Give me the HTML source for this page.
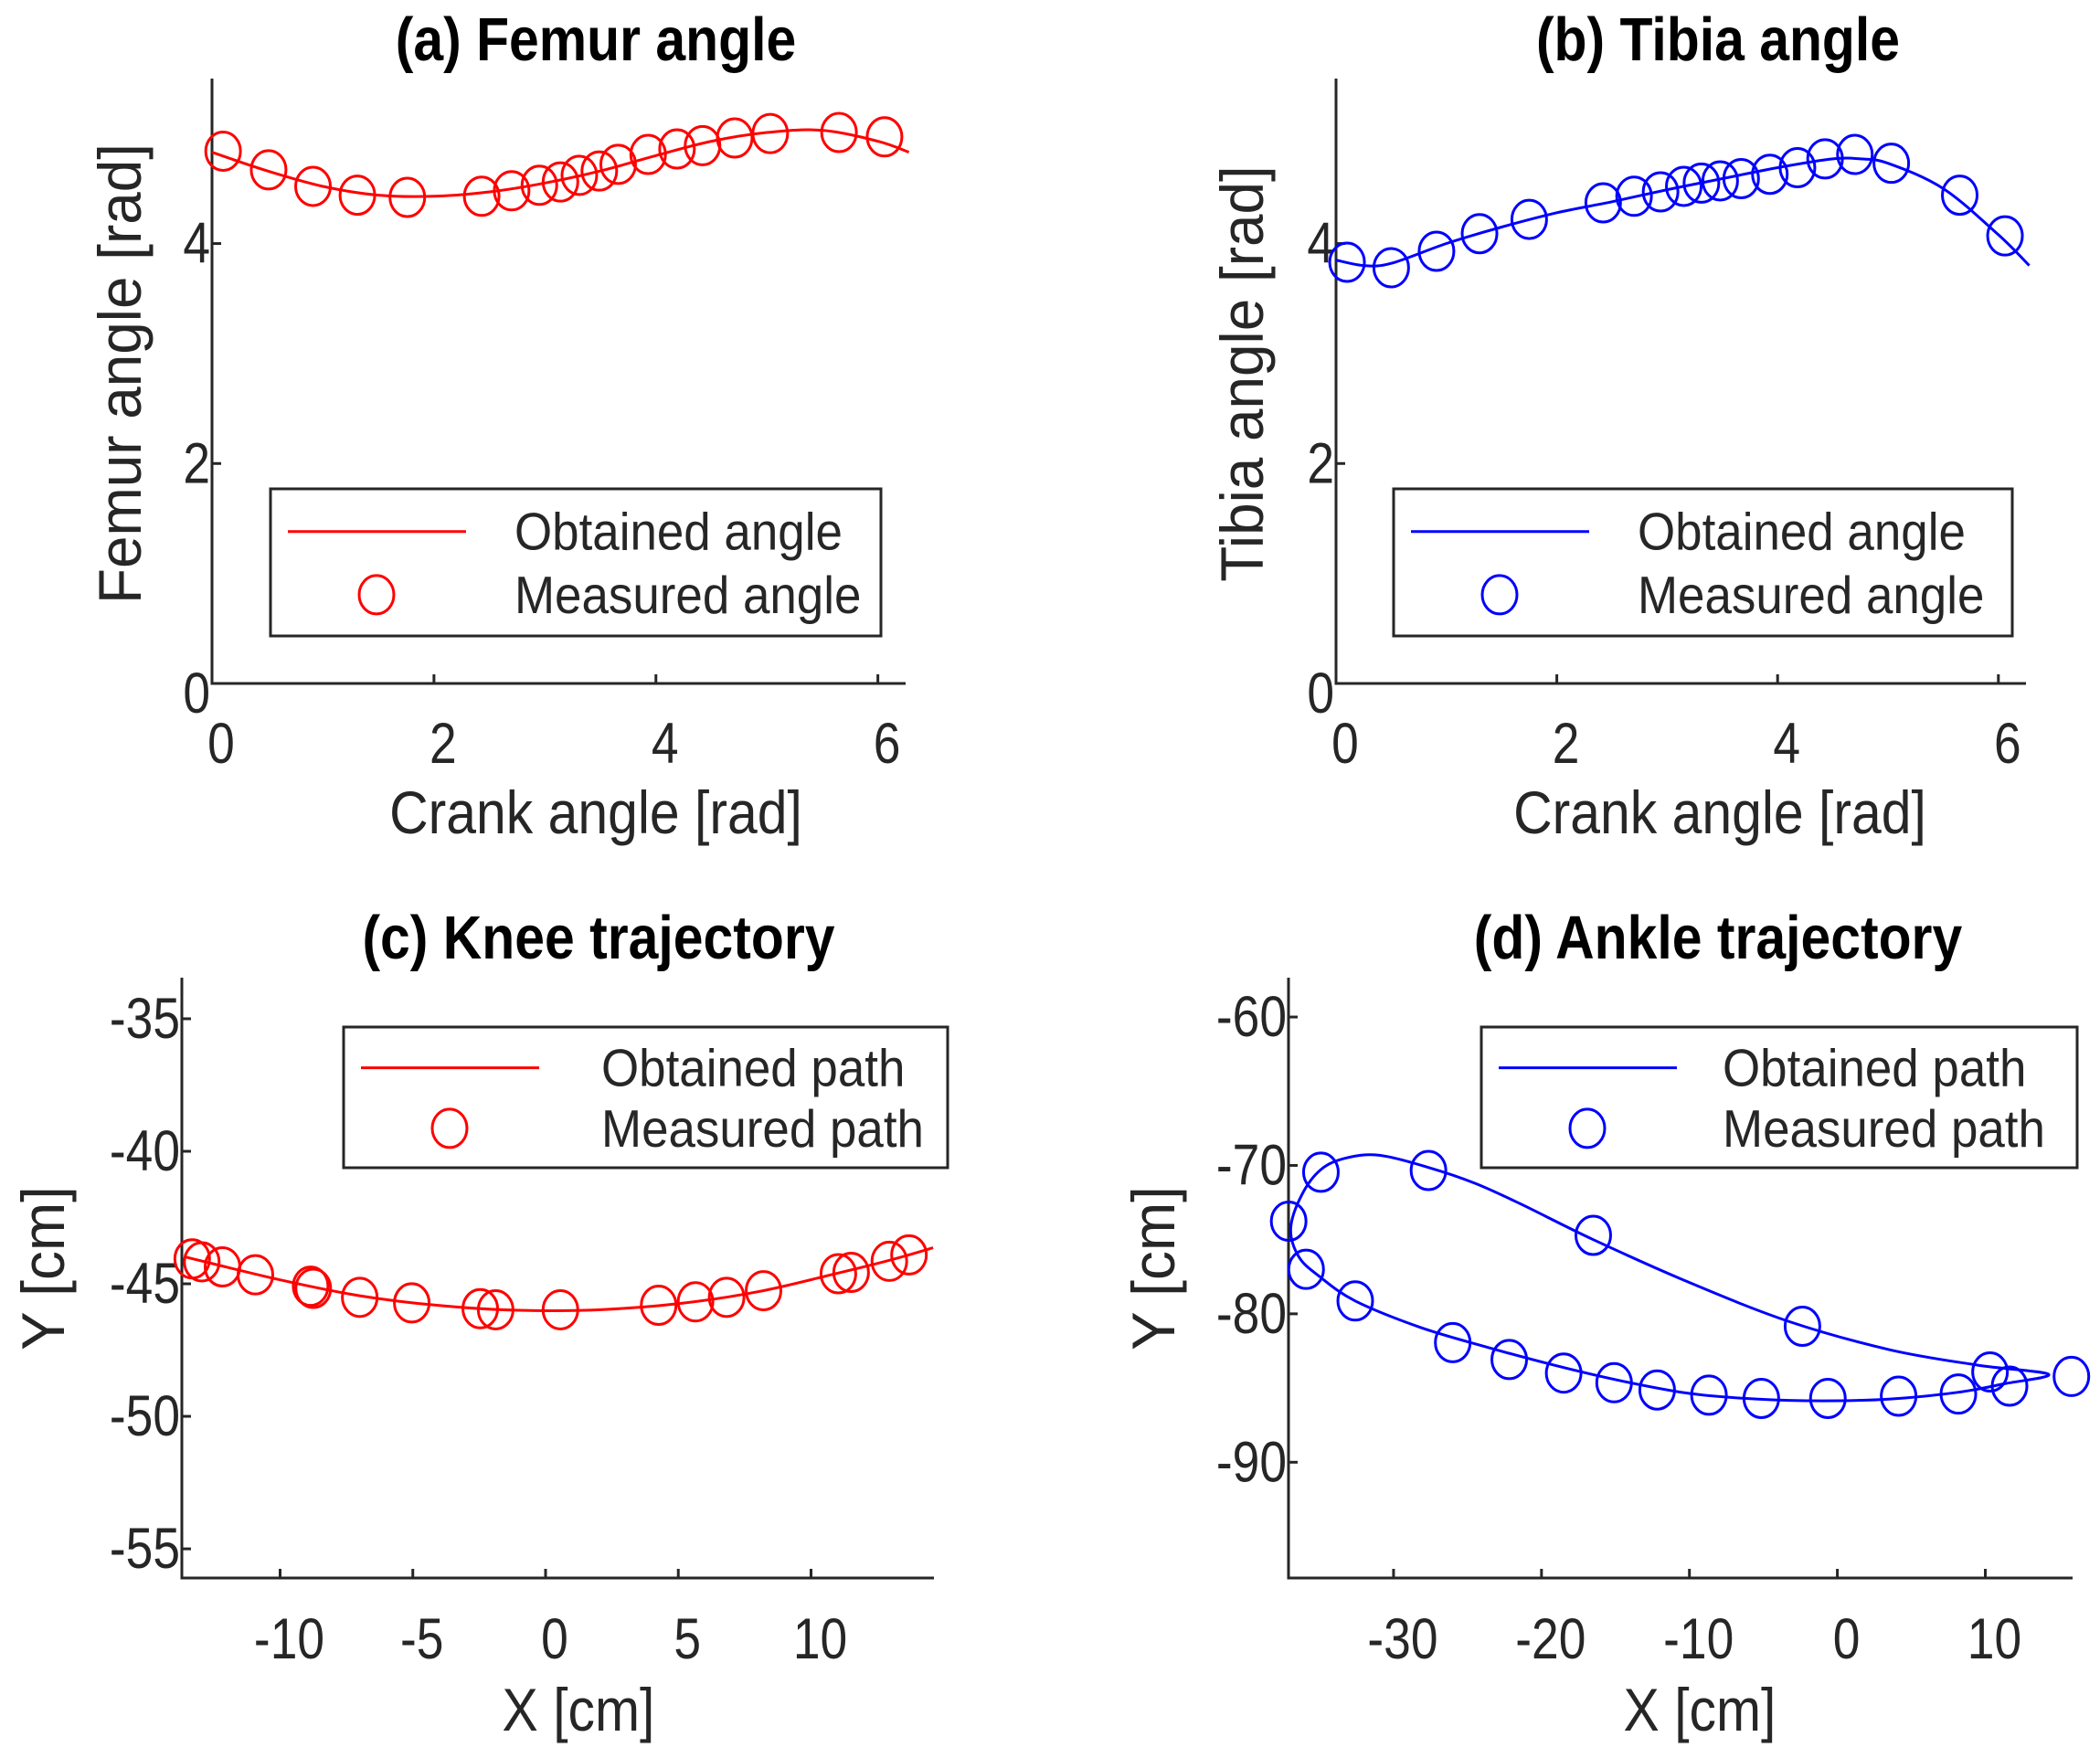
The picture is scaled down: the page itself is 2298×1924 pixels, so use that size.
<!DOCTYPE html>
<html><head><meta charset="utf-8"><style>
html,body{margin:0;padding:0;background:#fff;}
svg{display:block;}
text{font-family:"Liberation Sans",Arial,sans-serif;fill:#262626;}
.t{font-weight:bold;fill:#000;}
</style></head>
<body>
<svg id="fig" xmlns="http://www.w3.org/2000/svg" width="2298" height="1924" viewBox="0 0 2298 1924"></svg>
<script>
// ---- data (a) femur ----
const aCurveX=[0,0.5,1,1.5,2,2.5,3,3.5,4,4.5,5,5.5,6,6.28];
const aCurveY=[4.83,4.66,4.52,4.44,4.43,4.47,4.55,4.66,4.80,4.93,5.01,5.03,4.93,4.83];
const aMeasX=[0.10,0.51,0.91,1.31,1.76,2.43,2.70,2.95,3.14,3.31,3.49,3.66,3.93,4.19,4.42,4.71,5.03,5.65,6.06];
const aMeasY=[4.84,4.67,4.52,4.44,4.42,4.43,4.48,4.53,4.56,4.62,4.66,4.72,4.81,4.86,4.89,4.96,5.00,5.01,4.97];
// ---- data (b) tibia ----
const bCurveX=[0,0.25,0.5,1,1.5,2,2.5,3,3.5,4,4.5,4.75,5,5.5,6,6.28];
const bCurveY=[3.85,3.80,3.82,4.00,4.15,4.28,4.38,4.49,4.59,4.69,4.77,4.77,4.73,4.50,4.08,3.80];
const bMeasX=[0.10,0.50,0.91,1.30,1.75,2.42,2.70,2.94,3.15,3.31,3.48,3.67,3.93,4.18,4.43,4.70,5.03,5.65,6.06];
const bMeasY=[3.83,3.78,3.93,4.09,4.22,4.37,4.43,4.47,4.52,4.55,4.57,4.59,4.63,4.69,4.77,4.81,4.73,4.44,4.07];
const angleTicksX=[0,2,4,6];
const angleTicksY=[0,2,4];
// ---- data (c) knee ----
const cCurveX=[-13.6,-10,-7,-4,-1,2,5,8,11,13,14.6];
const cCurveY=[-43.98,-44.85,-45.45,-45.82,-46.0,-45.98,-45.75,-45.3,-44.6,-44.1,-43.64];
const cMeasX=[-13.31,-12.95,-12.17,-10.93,-8.85,-8.75,-7.0,-5.04,-2.46,-1.88,0.56,4.26,5.65,6.82,8.21,11.03,11.51,12.95,13.69];
const cMeasY=[-44.06,-44.17,-44.36,-44.66,-45.09,-45.17,-45.51,-45.72,-45.94,-45.98,-45.98,-45.81,-45.68,-45.51,-45.26,-44.62,-44.57,-44.15,-43.91];
const cTicksX=[-10,-5,0,5,10];
const cTicksY=[-55,-50,-45,-40,-35];
// ---- data (d) ankle ----
const dCurveX=[-30.95,-27.6,-24.5,-21.4,-16.5,-10.05,-3.23,3.59,9.5,14.27,11.3,8.14,3.59,-0.95,-5.5,-10.05,-14.6,-19.14,-23.7,-28.2,-32.59,-35.0,-36.4,-36.95,-36.2,-34.9,-33.2,-30.95];
const dCurveY=[-69.32,-70.15,-71.2,-72.6,-75.0,-77.87,-80.53,-82.43,-83.46,-84.07,-84.71,-85.29,-85.74,-85.86,-85.74,-85.36,-84.52,-83.46,-82.24,-80.91,-79.13,-77.49,-76.16,-74.26,-71.98,-70.27,-69.5,-69.32];
const dMeasX=[-37.09,-34.91,-27.64,-16.5,-2.36,10.32,11.64,15.82,8.18,4.14,-0.64,-5.14,-8.68,-12.18,-15.09,-18.5,-22.18,-26.0,-32.59,-35.91];
const dMeasY=[-73.76,-70.46,-70.34,-74.71,-80.84,-83.92,-84.87,-84.22,-85.40,-85.55,-85.70,-85.70,-85.48,-85.13,-84.64,-83.99,-83.08,-81.94,-79.13,-77.0];
const dTicksX=[-30,-20,-10,0,10];
const dTicksY=[-90,-80,-70,-60];

const NS="http://www.w3.org/2000/svg";
const fig=document.getElementById('fig');
function mk(tag,attrs,parent,txt){const e=document.createElementNS(NS,tag);for(const k in attrs)e.setAttribute(k,attrs[k]);if(txt!==undefined)e.textContent=txt;(parent||fig).appendChild(e);return e;}
function scale(d0,d1,p0,p1){return v=>p0+(v-d0)/(d1-d0)*(p1-p0);}
function smooth(pts,closed){
  let d='M'+pts[0][0].toFixed(1)+','+pts[0][1].toFixed(1);
  const n=pts.length;
  for(let i=0;i<n-1;i++){
    const p0=pts[i>0?i-1:(closed?n-2:0)],p1=pts[i],p2=pts[i+1],p3=pts[i+2<n?i+2:(closed?1:n-1)];
    const c1=[p1[0]+(p2[0]-p0[0])/6,p1[1]+(p2[1]-p0[1])/6];
    const c2=[p2[0]-(p3[0]-p1[0])/6,p2[1]-(p3[1]-p1[1])/6];
    d+='C'+c1[0].toFixed(1)+','+c1[1].toFixed(1)+' '+c2[0].toFixed(1)+','+c2[1].toFixed(1)+' '+p2[0].toFixed(1)+','+p2[1].toFixed(1);
  }
  return d;
}
function panel(o){
  const g=mk('g',{});
  
  
  const sx=scale(o.xd[0],o.xd[1],o.L,o.R), sy=scale(o.yd[0],o.yd[1],o.B,o.T);
  const ax=mk('path',{d:`M${o.L},${o.T}V${o.B}H${o.R}`,fill:'none',stroke:'#262626','stroke-width':3},g);
  
  
  o.tx.forEach(v=>{
    const x=sx(v);
    mk('line',{x1:x,y1:o.B,x2:x,y2:o.B-10,stroke:'#262626','stroke-width':3},g);
    const t=mk('text',{x:x+10,y:o.txy,'font-size':58,'text-anchor':'middle',transform:`translate(${x+10},${o.txy}) scale(0.92,1.08) translate(${-(x+10)},${-o.txy})`},g,String(v));
    
    
  });
  o.ty.forEach(v=>{
    const y=sy(v);
    mk('line',{x1:o.L,y1:y,x2:o.L+10,y2:y,stroke:'#262626','stroke-width':3},g);
    const yy=y+(v===o.yd[0]?32:21);
    const t=mk('text',{x:o.L-2,y:yy,'font-size':58,'text-anchor':'end',transform:`translate(${o.L-2},${yy}) scale(0.92,1.08) translate(${-(o.L-2)},${-yy})`},g,String(v));
    
    
  });
  const pts=o.cx.map((v,i)=>[sx(v),sy(o.cy[i])]);
  const cp=mk('path',{d:smooth(pts,o.closed),fill:'none',stroke:o.col,'stroke-width':3},g);
  
  
  o.mx.forEach((v,i)=>{
    const c=mk('ellipse',{cx:sx(v),cy:sy(o.my[i]),rx:19,ry:21,fill:'none',stroke:o.col,'stroke-width':3},g);
    
    
  });
  const tt=mk('text',{x:o.tcx,y:o.tby,'font-size':62,'text-anchor':'middle',class:'t',transform:`translate(${o.tcx},${o.tby}) scale(0.95,1.08) translate(${-o.tcx},${-o.tby})`},g,o.title);
  
  
  const xl=mk('text',{x:o.xlx,y:o.xly,'font-size':62,'text-anchor':'middle',transform:`translate(${o.xlx},${o.xly}) scale(0.95,1.06) translate(${-o.xlx},${-o.xly})`},g,o.xlab);
  
  
  const yl=mk('text',{x:0,y:0,'font-size':62,'text-anchor':'middle',transform:`translate(${o.ylx},${o.yly}) rotate(-90) scale(1.03,1.06)`},g,o.ylab);
  
  
  const lg=mk('g',{},g);
  
  
  const [x0,y0,x1,y1]=o.leg;
  mk('rect',{x:x0,y:y0,width:x1-x0,height:y1-y0,fill:'#fff',stroke:'#262626','stroke-width':3},lg);
  const h=y1-y0;
  mk('line',{x1:x0+19,y1:y0+h*0.29,x2:x0+214,y2:y0+h*0.29,stroke:o.col,'stroke-width':3},lg);
  mk('ellipse',{cx:x0+116,cy:y0+h*0.72,rx:19,ry:21,fill:'none',stroke:o.col,'stroke-width':3},lg);
  const e1=mk('text',{x:x0+o.ltx,y:y0+h*0.29+20,'font-size':54,fill:'#000',transform:`translate(${x0+o.ltx},${y0+h*0.29+20}) scale(0.98,1.06) translate(${-(x0+o.ltx)},${-(y0+h*0.29+20)})`},lg,o.l1);
  
  
  const e2=mk('text',{x:x0+o.ltx,y:y0+h*0.72+20,'font-size':54,fill:'#000',transform:`translate(${x0+o.ltx},${y0+h*0.72+20}) scale(0.98,1.06) translate(${-(x0+o.ltx)},${-(y0+h*0.72+20)})`},lg,o.l2);
  
  
}
panel({id:'femur',L:232,R:991,T:86,B:748,xd:[0,6.25],yd:[0,5.5],tx:angleTicksX,ty:angleTicksY,txy:835,
  cx:aCurveX,cy:aCurveY,mx:aMeasX,my:aMeasY,col:'#ff0000',closed:false,
  title:'(a) Femur angle',tcx:652,tby:66,xlab:'Crank angle [rad]',xlx:652,xly:912,ylab:'Femur angle [rad]',ylx:154,yly:409,
  leg:[296,535,964,696],ltx:267,l1:'Obtained angle',l2:'Measured angle'});
panel({id:'tibia',L:1462,R:2217,T:86,B:748,xd:[0,6.25],yd:[0,5.5],tx:angleTicksX,ty:angleTicksY,txy:835,
  cx:bCurveX,cy:bCurveY,mx:bMeasX,my:bMeasY,col:'#0000ff',closed:false,
  title:'(b) Tibia angle',tcx:1880,tby:66,xlab:'Crank angle [rad]',xlx:1882,xly:912,ylab:'Tibia angle [rad]',ylx:1382,yly:409,
  leg:[1525,535,2202,696],ltx:267,l1:'Obtained angle',l2:'Measured angle'});
panel({id:'knee',L:199,R:1022,T:1070,B:1727,xd:[-13.7,14.63],yd:[-56.1,-33.45],tx:cTicksX,ty:cTicksY,txy:1815,
  cx:cCurveX,cy:cCurveY,mx:cMeasX,my:cMeasY,col:'#ff0000',closed:false,
  title:'(c) Knee trajectory',tcx:655,tby:1049,xlab:'X [cm]',xlx:633,xly:1894,ylab:'Y [cm]',ylx:70,yly:1388,
  leg:[376,1124,1037,1278],ltx:282,l1:'Obtained path',l2:'Measured path'});
panel({id:'ankle',L:1410,R:2268,T:1070,B:1727,xd:[-37.1,15.9],yd:[-97.8,-57.35],tx:dTicksX,ty:dTicksY,txy:1815,
  cx:dCurveX,cy:dCurveY,mx:dMeasX,my:dMeasY,col:'#0000ff',closed:true,
  title:'(d) Ankle trajectory',tcx:1880,tby:1049,xlab:'X [cm]',xlx:1860,xly:1894,ylab:'Y [cm]',ylx:1285,yly:1388,
  leg:[1621,1124,2273,1278],ltx:264,l1:'Obtained path',l2:'Measured path'});
</script>
</body></html>
